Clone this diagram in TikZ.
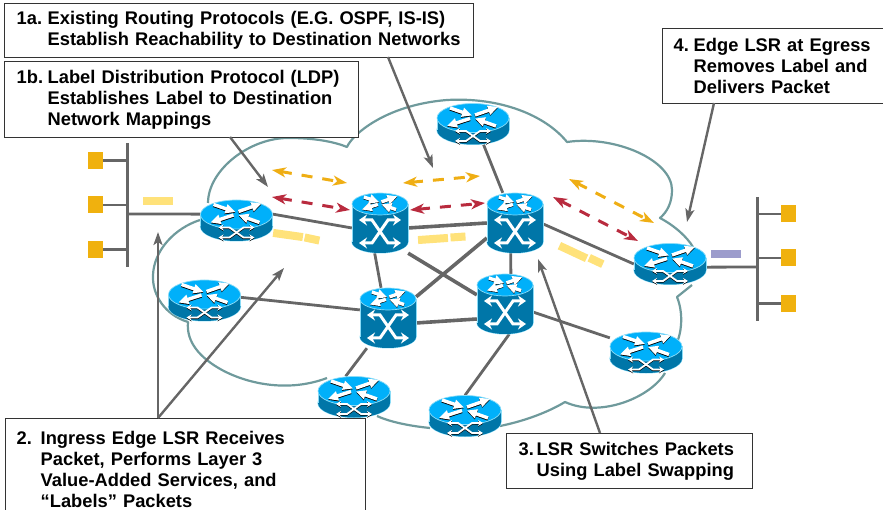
\documentclass[tikz,border=0pt]{standalone}
\usepackage{fontspec}
\setmainfont{Liberation Sans}
\usetikzlibrary{arrows.meta}
\definecolor{cloudc}{HTML}{6F9A9C}
\definecolor{linkc}{HTML}{666666}
\definecolor{topc}{HTML}{00B0FA}
\definecolor{sidec}{HTML}{0076A8}
\definecolor{rimc}{HTML}{8ADCF7}
\definecolor{gold}{HTML}{F0B10E}
\definecolor{packc}{HTML}{FFE27A}
\definecolor{purp}{HTML}{9C9CCC}
\definecolor{redc}{HTML}{B92B3E}
\definecolor{orc}{HTML}{EFAE14}
\newcommand{\topglyph}[3]{%
 \begin{scope}[shift={(#1,#2)},yscale=#3,xscale=#3]
  \foreach \q/\o in {black/0.9,white/0}{
  \foreach \a/\b/\c/\d in {-23/-10/-1/-2.5,-3/0.5/-26/8,2/-3/25/-11,23/8/2/0.5}{
  \draw[\q,line width=3.4pt,-{Triangle[length=10pt,width=9pt]}] (\a,\b+\o) -- (\c,\d+\o);
  }}
 \end{scope}}
\tikzset{
 x=1pt,y=-1pt,
 routerbox/.style={minimum width=72pt,minimum height=41pt,inner sep=0pt},
 switchbox/.style={minimum width=56pt,minimum height=60pt,inner sep=0pt},
 link/.style={linkc,line width=2.8pt},
 thicklink/.style={linkc,line width=3.6pt},
 busline/.style={linkc,line width=3pt},
 cloudline/.style={cloudc,line width=2.2pt},
 textbox/.style={draw=black!80,line width=1.4pt,fill=white,anchor=north west,inner ysep=0pt,inner xsep=0pt,
   align=left,font=\fontsize{18.3}{21}\selectfont\bfseries},
 callout/.style={linkc,line width=2.4pt,-{Stealth[length=13pt,width=9pt,inset=3pt]}},
 hopgold/.style={orc,line width=3pt,dash pattern=on 11pt off 10pt,{Stealth[length=14pt,width=10pt,inset=4pt]}-{Stealth[length=14pt,width=10pt,inset=4pt]}},
 hopred/.style={redc,line width=3pt,dash pattern=on 11pt off 10pt,{Stealth[length=14pt,width=10pt,inset=4pt]}-{Stealth[length=14pt,width=10pt,inset=4pt]}},
 packet/.style={fill=packc,minimum height=8pt,inner sep=0pt},
 hostbox/.style={fill=gold,minimum width=15pt,minimum height=17pt,inner sep=0pt},
 routerpic/.pic={
  \fill[rimc] (0,6) ellipse [x radius=36.6pt,y radius=15pt];
  \fill[sidec] (0,6) ellipse [x radius=36pt,y radius=14.5pt];
  \fill[sidec] (-36,-6) rectangle (36,6);
  \draw[rimc,line width=.6pt] (-36,-6) -- (-36,6) (36,-6) -- (36,6);
  \fill[topc] (0,-6) ellipse [x radius=36pt,y radius=14.5pt];
  \draw[rimc,line width=.7pt] (0,-6) ellipse [x radius=36pt,y radius=14.5pt];
  \topglyph{0}{-6}{1}
  \foreach \c/\w/\o in {black/1.8/0.8,white/1.8/0}{
  \draw[\c,line width=\w pt,{Stealth[length=5pt,width=6pt]}-{Stealth[length=5pt,width=6pt]}] (-18,7+\o) -- (-7,7+\o) -- (7,17+\o) -- (18,17+\o);
  \draw[\c,line width=\w pt,{Stealth[length=5pt,width=6pt]}-{Stealth[length=5pt,width=6pt]}] (-18,17+\o) -- (-7,17+\o) -- (7,7+\o) -- (18,7+\o);}
 },
 switchpic/.pic={
  \fill[rimc] (0,19) ellipse [x radius=28.5pt,y radius=11.5pt];
  \fill[sidec] (0,19) ellipse [x radius=28pt,y radius=11pt];
  \fill[sidec] (-28,-19) rectangle (28,19);
  \draw[rimc,line width=.6pt] (-28,-19) -- (-28,19) (28,-19) -- (28,19);
  \fill[topc] (0,-19) ellipse [x radius=28pt,y radius=11pt];
  \draw[rimc,line width=.7pt] (0,-19) ellipse [x radius=28pt,y radius=11pt];
  \topglyph{0}{-19}{.7}
  \draw[white,line width=3pt,{Stealth[length=8pt,width=11pt]}-{Stealth[length=8pt,width=11pt]}] (-21,-3) -- (-8,-3) -- (8,20) -- (21,20);
  \draw[white,line width=3pt,{Stealth[length=8pt,width=11pt]}-{Stealth[length=8pt,width=11pt]}] (-21,20) -- (-8,20) -- (8,-3) -- (21,-3);
 },
}
\newcommand{\num}[2]{\makebox[#1pt][l]{#2}}
\begin{document}
\begin{tikzpicture}
\useasboundingbox (0,0) rectangle (883,510);
% cloud
\draw[cloudline,line join=round]
  (208,203) .. controls (208,170) and (250,137) .. (290,138) .. controls (315,138) and (335,142) .. (347,147)
  .. controls (352,135) and (385,105) .. (447,100) .. controls (500,97) and (545,115) .. (567,142)
  .. controls (615,135) and (672,160) .. (672,190) .. controls (672,203) and (667,212) .. (660,218)
  .. controls (675,226) and (687,237) .. (693,247)
  (692,285) -- (677,297)
  .. controls (683,312) and (682,328) .. (678,340)
  (665,373) .. controls (650,398) and (600,418) .. (565,402)
  .. controls (545,414) and (520,422) .. (500,426)
  (430,428) .. controls (410,426) and (390,422) .. (377,416)
  (327,378) .. controls (290,392) and (250,385) .. (222,370) .. controls (200,358) and (186,342) .. (188,322)
  .. controls (165,315) and (152,295) .. (153,275) .. controls (154,250) and (175,228) .. (200,220);
% device placeholders
\node[routerbox] (r1) at (236.5,220.5) {};
\node[routerbox] (rtop) at (473,124) {};
\node[routerbox] (rR) at (670,264) {};
\node[routerbox] (rLL) at (204.5,300.5) {};
\node[routerbox] (rLR) at (646,352.5) {};
\node[routerbox] (rBL) at (354,397) {};
\node[routerbox] (rB) at (465,416) {};
\node[switchbox] (s1) at (380,223) {};
\node[switchbox] (s2) at (515,223) {};
\node[switchbox] (s3) at (388,318) {};
\node[switchbox] (s4) at (505,304) {};
% hosts and buses
\coordinate (busLt) at (127,143);
\coordinate (busLb) at (127,267);
\coordinate (busLm) at (127,214);
\coordinate (busRt) at (757.5,197);
\coordinate (busRb) at (757.5,321);
\coordinate (busRm) at (757.5,267);
\node[hostbox] (hl1) at (95.5,160.5) {};
\node[hostbox] (hl2) at (95.5,205) {};
\node[hostbox] (hl3) at (95.5,249.5) {};
\node[hostbox] (hr1) at (788.5,214) {};
\node[hostbox] (hr2) at (788.5,258) {};
\node[hostbox] (hr3) at (788.5,303.5) {};
\draw[busline] (busLt) -- (busLb);
\draw[busline] (busRt) -- (busRb);
\foreach \h in {hl1,hl2,hl3} \draw[link] (\h.east) -- (\h.east -| busLt);
\foreach \h in {hr1,hr2,hr3} \draw[link] (\h.west) -- (\h.west -| busRt);
\draw[link] (busLm) -- (r1.170);
\draw[link] (rR.355) -- (busRm);
% links
\draw[link] (r1.10) -- (s1.190);
\draw[thicklink] (s1.350) -- (s2.180);
\draw[link] (s1.260) -- (s3.103);
\draw[thicklink] (s1.313) -- (s4.162);
\draw[thicklink] (s2.208) -- (s3.37);
\draw[link] (s2.262) -- (s4.79);
\draw[link] (s2.358) -- (rR.180);
\draw[link] (s2.112) -- (rtop.297);
\draw[link] (rLL.5) -- (s3.164);
\draw[thicklink] (s3.350) -- (s4.208);
\draw[link] (s3.235) -- (rBL.112);
\draw[link] (s4.278) -- (rB.90);
\draw[link] (s4.344) -- (rLR.158);
% devices
\foreach \n in {r1,rtop,rR,rLL,rLR,rBL,rB} \pic at (\n) {routerpic};
\foreach \n in {s1,s2,s3,s4} \pic at (\n) {switchpic};
% packets
\node[packet,minimum width=30pt] (p1) at (158,201) {};
\node[packet,minimum width=30pt,rotate=-8] (p2a) at (288,235) {};
\node[packet,minimum width=15pt,rotate=-12] (p2b) at (312,239) {};
\node[packet,minimum width=30pt,rotate=4] (p3a) at (433,239) {};
\node[packet,minimum width=15pt,rotate=4] (p3b) at (458,237) {};
\node[packet,minimum width=30pt,rotate=-25] (p4a) at (573,252) {};
\node[packet,minimum width=15pt,rotate=-25] (p4b) at (596,261) {};
\node[fill=purp,minimum width=30pt,minimum height=8pt,inner sep=0pt] (p5) at (726,254) {};
% hop arrows
\coordinate (ga1) at (272,170); \coordinate (ga2) at (347,183);
\coordinate (gb1) at (403,183); \coordinate (gb2) at (480,176);
\coordinate (gc1) at (569,179); \coordinate (gc2) at (654,223);
\coordinate (ra1) at (272,197); \coordinate (ra2) at (350,210);
\coordinate (rb1) at (410,210); \coordinate (rb2) at (485,203);
\coordinate (rc1) at (553,197); \coordinate (rc2) at (638,241);
\draw[hopgold] (ga1) -- (ga2);
\draw[hopgold] (gb1) -- (gb2);
\draw[hopgold] (gc1) -- (gc2);
\draw[hopred] (ra1) -- (ra2);
\draw[hopred] (rb1) -- (rb2);
\draw[hopred] (rc1) -- (rc2);
% text boxes
\node[textbox,text width=457pt,minimum height=54pt,inner xsep=6pt] (b1a) at (4,3) {\hspace*{6pt}\num{31}{1a.}Existing Routing Protocols (E.G. OSPF, IS-IS)\\\hspace*{37pt}Establish Reachability to Destination Networks};
\node[textbox,text width=342pt,minimum height=76pt,inner xsep=6pt] (b1b) at (4,61) {\hspace*{6pt}\num{31}{1b.}Label Distribution Protocol (LDP)\\\hspace*{37pt}Establishes Label to Destination\\\hspace*{37pt}Network Mappings};
\node[textbox,text width=228pt,minimum height=75pt,inner xsep=5.5pt] (b4) at (662,28) {\hspace*{5.5pt}\num{20}{4.}Edge LSR at Egress\\\hspace*{25.5pt}Removes Label and\\\hspace*{25.5pt}Delivers Packet};
\node[textbox,text width=348pt,minimum height=102pt,inner xsep=6pt] (b2) at (5,418) {\hspace*{5pt}\num{24}{2.}Ingress Edge LSR Receives\\\hspace*{29pt}Packet, Performs Layer 3\\\hspace*{29pt}Value-Added Services, and\\\hspace*{29pt}“Labels” Packets};
\node[textbox,text width=234pt,minimum height=55pt,inner xsep=6pt] (b3) at (506,433) {\hspace*{6pt}\num{18}{3.}LSR Switches Packets\\\hspace*{24pt}Using Label Swapping};
% callouts
\coordinate (t1a) at (433,168);
\coordinate (t1b) at (268,187);
\coordinate (t4) at (687,222);
\coordinate (t2a) at (158,232);
\coordinate (t2b) at (284,268);
\coordinate (t3) at (538,259);
\coordinate (f1a) at (388,57);
\coordinate (f1b) at (230,137);
\coordinate (f4) at (714,103);
\coordinate (f2) at (158,418);
\coordinate (f3) at (600,433);
\draw[callout] (f1a) -- (t1a);
\draw[callout] (f1b) -- (t1b);
\draw[callout] (f4) -- (t4);
\draw[callout] (f2) -- (t2a);
\draw[callout] (f2) -- (t2b);
\draw[callout] (f3) -- (t3);
\end{tikzpicture}
\end{document}
